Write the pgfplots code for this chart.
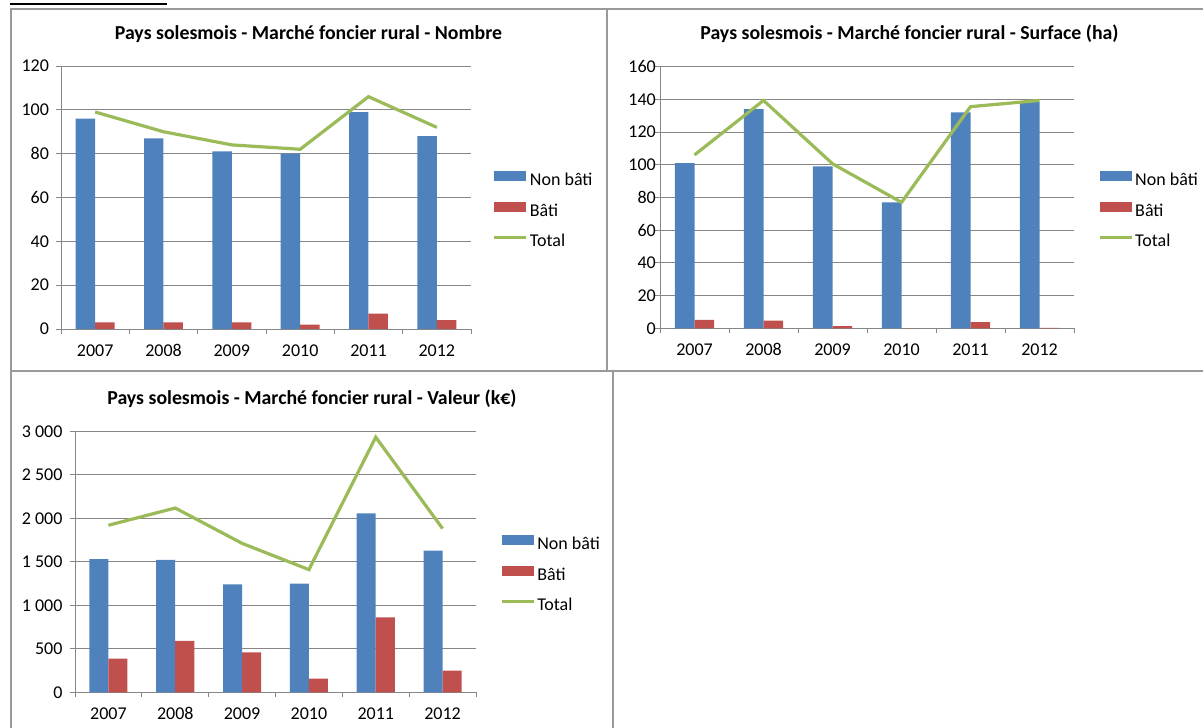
\documentclass[border=0pt]{standalone}
\usepackage{fontspec}
\setmainfont{Carlito}
\usepackage{pgfplots}
\pgfplotsset{compat=1.18}
\definecolor{nbblue}{HTML}{4F81BD}
\definecolor{bred}{HTML}{C0504D}
\definecolor{tgreen}{HTML}{9BBB59}
\definecolor{gridgrey}{HTML}{868686}
\definecolor{framegrey}{HTML}{9A9A9A}
\pgfplotsset{
 excel/.style={
  scale only axis,
  axis lines*=left,
  axis line style={gridgrey, line width=0.9pt},
  ymajorgrids,
  grid style={gridgrey, line width=0.9pt},
  xmin=-0.5, xmax=5.5, ymin=0,
  xtick={-0.5,0.5,1.5,2.5,3.5,4.5,5.5},
  xticklabels={},
  extra x ticks={0,1,2,3,4,5},
  extra x tick labels={2007,2008,2009,2010,2011,2012},
  extra x tick style={tick style={draw=none}, grid=none},
  tick style={gridgrey, line width=0.9pt},
  tick align=outside,
  major tick length=5pt,
  tick label style={font=\fontsize{18}{21}\selectfont, text=black},
  xticklabel style={inner ysep=0pt, text height=11.4pt, text depth=0pt, yshift=-11pt},
  /pgf/number format/assume math mode=true,
  legend style={draw=none, fill=none, inner sep=0pt, outer sep=0pt, row sep=13pt,
     nodes={inner xsep=2pt, inner ysep=0pt, text height=13pt, text depth=4pt, font=\fontsize{18}{21}\selectfont}},
  legend cell align=left,
 },
 nbbar/.style={ybar, bar width=0.285, bar shift=-0.1425, fill=nbblue, draw=none,
   legend image code/.code={\fill[nbblue] (0pt,0pt) rectangle (32pt,10pt);}},
 bbar/.style={ybar, bar width=0.285, bar shift=0.1425, fill=bred, draw=none,
   legend image code/.code={\fill[bred] (0pt,0pt) rectangle (32pt,10pt);}},
 totline/.style={tgreen, line width=3.2pt, mark=none, sharp plot,
   legend image code/.code={\draw[tgreen, line width=3.2pt] (0pt,5pt) -- (32pt,5pt);}},
}
\begin{document}
\begin{tikzpicture}[x=1pt,y=1pt]
\useasboundingbox (0,0) rectangle (1203,728);
% frames
\draw[black, line width=1.4pt] (10,724) -- (167,724);
\draw[framegrey, line width=1.6pt] (10,719) -- (1203,719);
\draw[framegrey, line width=1.6pt] (10.8,719) -- (10.8,0);
\draw[framegrey, line width=1.6pt] (607,719) -- (607,357);
\draw[framegrey, line width=1.6pt] (10,357) -- (1203,357);
\draw[framegrey, line width=1.6pt] (613,357) -- (613,0);
% titles
\node[font=\bfseries\fontsize{19.8}{23}\selectfont] at (308.5,694) {Pays solesmois - Marché foncier rural - Nombre};
\node[font=\bfseries\fontsize{19.8}{23}\selectfont] at (909.5,694) {Pays solesmois - Marché foncier rural - Surface (ha)};
\node[font=\bfseries\fontsize{19.8}{23}\selectfont] at (312,329) {Pays solesmois - Marché foncier rural - Valeur (k€)};

% chart 1
\begin{axis}[excel, at={(61pt,399pt)}, anchor=south west, width=410pt, height=263pt,
  ymax=120, ytick={0,20,...,120}, yticklabel style={xshift=-3.5pt},
  legend style={at={(1.053,0.601)}, anchor=north west}]
\addplot[nbbar] coordinates {(0,96)(1,87)(2,81)(3,80)(4,99)(5,88)};
\addlegendentry{Non bâti}
\addplot[bbar] coordinates {(0,3)(1,3)(2,3)(3,2)(4,7)(5,4)};
\addlegendentry{Bâti}
\addplot[totline] coordinates {(0,99)(1,90)(2,84)(3,82)(4,106)(5,92)};
\addlegendentry{Total}
\end{axis}

% chart 2
\begin{axis}[excel, at={(660pt,399.7pt)}, anchor=south west, width=414pt, height=261.7pt,
  ymax=160, ytick={0,20,...,160}, yticklabel style={xshift=4.3pt},
  legend style={at={(1.058,0.602)}, anchor=north west}]
\addplot[nbbar] coordinates {(0,101)(1,134)(2,99)(3,77)(4,132)(5,138.5)};
\addlegendentry{Non bâti}
\addplot[bbar] coordinates {(0,5.2)(1,4.7)(2,1.4)(3,0)(4,3.7)(5,0.3)};
\addlegendentry{Bâti}
\addplot[totline] coordinates {(0,106)(1,139.3)(2,100.6)(3,77)(4,135.5)(5,139.3)};
\addlegendentry{Total}
\end{axis}

% chart 3
\begin{axis}[excel, at={(75pt,35.7pt)}, anchor=south west, width=401pt, height=261pt,
  ymax=3000, ytick={0,500,...,3000}, yticklabel style={xshift=-4pt, /pgf/number format/1000 sep={\ }},
  legend style={at={(1.06,0.603)}, anchor=north west}]
\addplot[nbbar] coordinates {(0,1532)(1,1521)(2,1241)(3,1248)(4,2057)(5,1628)};
\addlegendentry{Non bâti}
\addplot[bbar] coordinates {(0,386)(1,590)(2,460)(3,157)(4,862)(5,248)};
\addlegendentry{Bâti}
\addplot[totline] coordinates {(0,1920)(1,2118)(2,1712)(3,1410)(4,2932)(5,1882)};
\addlegendentry{Total}
\end{axis}
\end{tikzpicture}
\end{document}
